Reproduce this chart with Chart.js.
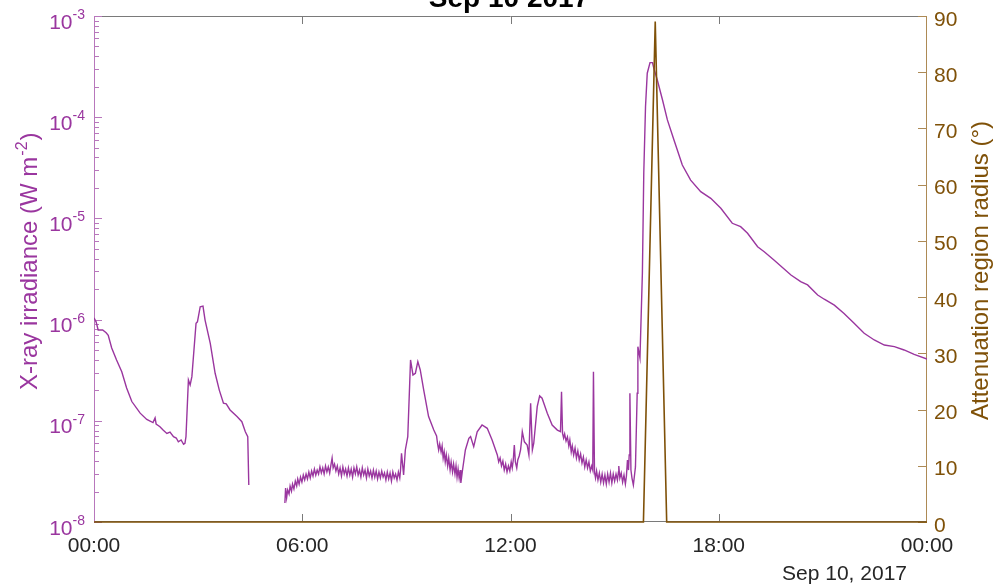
<!DOCTYPE html>
<html>
<head>
<meta charset="utf-8">
<script src="https://cdn.jsdelivr.net/npm/chart.js@4.4.0/dist/chart.umd.min.js"></script>
<style>
html,body{margin:0;padding:0;background:#fff;}
canvas{display:block;}
</style>
</head>
<body>
<canvas id="c" width="997" height="587"></canvas>
<script>
// ---- Data (time in hours of Sep 10 2017) ----
const xrayHours = [
0.00,0.06,0.12,0.25,0.35,0.41,0.51,0.65,0.80,0.94,
1.09,1.33,1.52,1.70,1.76,1.79,1.90,1.99,2.10,2.19,
2.29,2.37,2.43,2.51,2.58,2.62,2.65,2.72,2.77,2.82,
2.94,2.98,3.06,3.14,3.20,3.35,3.49,3.61,3.73,3.81,
3.92,4.12,4.26,4.36,4.43,4.46,5.00,
5.50,5.52,5.55,5.58,5.62,5.65,5.69,5.72,5.76,5.80,
5.84,5.87,5.91,5.95,5.99,6.03,6.07,6.11,6.15,6.19,
6.23,6.27,6.31,6.35,6.39,6.43,6.47,6.51,6.55,6.59,
6.63,6.67,6.71,6.75,6.79,6.83,6.86,6.89,6.93,6.97,
7.01,7.05,7.09,7.13,7.17,7.21,7.25,7.29,7.33,7.37,
7.41,7.45,7.49,7.53,7.57,7.61,7.65,7.69,7.73,7.77,
7.81,7.85,7.89,7.93,7.97,8.01,8.05,8.09,8.13,8.17,
8.21,8.25,8.29,8.33,8.37,8.41,8.45,8.49,8.53,8.57,
8.61,8.65,8.69,8.73,8.77,8.81,8.83,8.86,8.92,8.97,
9.04,9.12,9.19,9.26,9.33,9.40,9.50,9.64,9.79,9.87,
9.90,9.93,9.96,10.00,10.03,10.06,10.09,10.12,10.15,10.19,
10.22,10.26,10.29,10.33,10.36,10.40,10.43,10.46,10.49,10.52,
10.55,10.57,10.61,10.70,10.80,10.85,10.94,11.04,11.18,11.33,
11.47,11.62,11.66,11.70,11.74,11.78,11.82,11.86,11.90,11.94,
11.98,12.02,12.05,12.08,12.11,12.14,12.18,12.21,12.25,12.29,
12.32,12.34,12.40,12.48,12.53,12.58,12.63,12.67,12.77,12.84,
12.91,13.06,13.20,13.35,13.44,13.47,13.50,13.53,13.56,13.60,
13.64,13.68,13.71,13.75,13.78,13.82,13.86,13.90,13.94,13.98,
14.02,14.06,14.10,14.14,14.18,14.22,14.26,14.30,14.34,14.37,
14.39,14.42,14.45,14.48,14.52,14.56,14.60,14.64,14.68,14.72,
14.76,14.80,14.84,14.88,14.92,14.96,15.00,15.04,15.08,15.11,
15.12,15.15,15.19,15.23,15.27,15.31,15.34,15.37,15.40,15.42,
15.44,15.47,15.50,15.54,15.57,15.60,15.65,15.67,15.73,15.80,
15.84,15.89,15.94,16.02,16.09,16.13,16.23,16.38,16.52,16.71,
16.95,17.19,17.48,17.77,18.06,18.39,18.63,18.83,19.12,19.31,
19.59,20.08,20.36,20.56,20.85,21.04,21.33,21.61,21.90,22.19,
22.48,22.77,23.06,23.34,23.63,24.00
];
const xrayIrradiance = [
1.04e-6,9.5e-7,7.9e-7,7.9e-7,7.4e-7,7.0e-7,5.24e-7,3.99e-7,3.05e-7,2.11e-7,
1.55e-7,1.19e-7,1.03e-7,9.6e-8,1.07e-7,9.3e-8,8.75e-8,8.1e-8,7.5e-8,7.75e-8,
6.97e-8,6.76e-8,6.2e-8,6.46e-8,5.86e-8,6.0e-8,6.97e-8,2.53e-7,2.26e-7,2.73e-7,
9.2e-7,9.5e-7,1.34e-6,1.36e-6,9.9e-7,5.83e-7,2.95e-7,2.01e-7,1.49e-7,1.47e-7,
1.28e-7,1.10e-7,9.8e-8,7.8e-8,6.97e-8,2.32e-8,null,
1.54e-8,2.17e-8,1.73e-8,2.07e-8,1.89e-8,2.27e-8,2.02e-8,2.37e-8,2.12e-8,2.54e-8,
2.27e-8,2.66e-8,2.37e-8,2.78e-8,2.48e-8,2.91e-8,2.60e-8,2.98e-8,2.66e-8,3.12e-8,
2.72e-8,3.19e-8,2.85e-8,3.34e-8,2.91e-8,3.26e-8,2.98e-8,3.50e-8,3.05e-8,3.42e-8,
2.98e-8,3.58e-8,3.12e-8,3.50e-8,3.05e-8,3.74e-8,4.29e-8,3.42e-8,3.74e-8,3.19e-8,
3.58e-8,2.98e-8,3.42e-8,2.85e-8,3.50e-8,2.98e-8,3.34e-8,2.85e-8,3.42e-8,2.91e-8,
3.34e-8,2.78e-8,3.42e-8,2.98e-8,3.50e-8,2.91e-8,3.26e-8,2.78e-8,3.42e-8,2.91e-8,
3.26e-8,2.72e-8,3.34e-8,2.85e-8,3.19e-8,2.72e-8,3.26e-8,2.78e-8,3.19e-8,2.66e-8,
3.12e-8,2.72e-8,3.19e-8,2.78e-8,3.05e-8,2.60e-8,3.12e-8,2.66e-8,3.05e-8,2.54e-8,
3.12e-8,2.72e-8,2.98e-8,2.60e-8,3.12e-8,2.72e-8,3.19e-8,4.78e-8,2.91e-8,5.15e-8,
6.97e-8,3.99e-7,2.84e-7,2.95e-7,3.84e-7,3.18e-7,2.01e-7,1.10e-7,8.1e-8,7.08e-8,
5.90e-8,5.15e-8,5.90e-8,4.92e-8,5.64e-8,4.29e-8,4.92e-8,3.92e-8,4.60e-8,3.58e-8,
4.29e-8,3.26e-8,3.92e-8,3.12e-8,3.74e-8,2.98e-8,3.58e-8,2.78e-8,3.34e-8,2.72e-8,
3.26e-8,2.43e-8,3.12e-8,5.15e-8,6.71e-8,6.97e-8,5.55e-8,7.8e-8,9.09e-8,8.43e-8,
6.46e-8,4.60e-8,3.92e-8,4.29e-8,3.58e-8,4.01e-8,3.26e-8,3.74e-8,3.12e-8,3.58e-8,
3.19e-8,3.92e-8,3.42e-8,4.10e-8,5.77e-8,3.92e-8,3.42e-8,4.10e-8,4.49e-8,5.15e-8,
6.46e-8,7.8e-8,6.2e-8,5.77e-8,4.59e-8,1.49e-7,5.15e-8,6.0e-8,1.38e-7,1.76e-7,
1.67e-7,1.19e-7,9.09e-8,8.1e-8,7.8e-8,1.94e-7,7.5e-8,6.76e-8,7.41e-8,6.31e-8,
6.92e-8,5.64e-8,6.46e-8,4.92e-8,5.64e-8,4.60e-8,5.38e-8,4.29e-8,5.03e-8,4.10e-8,
4.70e-8,3.83e-8,4.39e-8,3.50e-8,4.10e-8,3.42e-8,3.92e-8,3.19e-8,3.58e-8,3.26e-8,
3.05e-7,3.12e-8,2.72e-8,3.19e-8,2.60e-8,3.05e-8,2.48e-8,2.98e-8,2.43e-8,2.91e-8,
2.37e-8,2.98e-8,2.48e-8,3.05e-8,2.43e-8,2.98e-8,2.54e-8,2.98e-8,2.60e-8,3.12e-8,
3.58e-8,2.72e-8,3.05e-8,2.48e-8,2.91e-8,2.37e-8,2.85e-8,4.10e-8,3.26e-8,4.60e-8,
1.87e-7,3.26e-8,2.72e-8,2.32e-8,2.85e-8,3.50e-8,1.87e-7,5.4e-7,4.17e-7,2.89e-6,
2.81e-5,1.27e-4,2.72e-4,3.46e-4,3.46e-4,3.04e-4,2.33e-4,1.48e-4,9.4e-5,5.95e-5,
3.37e-5,2.39e-5,1.84e-5,1.58e-5,1.26e-5,8.95e-6,8.28e-6,7.13e-6,5.25e-6,4.69e-6,
3.88e-6,2.76e-6,2.37e-6,2.2e-6,1.75e-6,1.59e-6,1.39e-6,1.15e-6,9.2e-7,7.33e-7,
6.29e-7,5.61e-7,5.4e-7,5.01e-7,4.54e-7,4.08e-7
];
const radiusHours = [0, 15.83, 16.17, 16.50, 24];
const radiusDeg = [0, 0, 89, 0, 0];

const timeTicks = [0, 6, 12, 18, 24];
const timeTickLabels = ['00:00', '06:00', '12:00', '18:00', '00:00'];
const logTickExponents = [-8, -7, -6, -5, -4, -3];
const radiusTicks = [0, 10, 20, 30, 40, 50, 60, 70, 80, 90];
const titleText = 'Sep 10 2017';
const dateText = 'Sep 10, 2017';
const leftTitle = ['X-ray irradiance (W m', '-2', ')'];
const rightTitle = 'Attenuation region radius (°)';

// ---- Styles ----
const PURPLE = '#9a369f';
const PURPLE_AXIS = '#b877bc';
const BROWN = '#7f5108';
const BROWN_AXIS = '#ad8a55';
const GRAY = '#262626';
const FONT = "'Liberation Sans', Arial, Helvetica, sans-serif";

const decor = {
  id: 'decor',
  beforeDatasetsDraw(chart) {
    const ctx = chart.ctx, a = chart.chartArea;
    const xs = chart.scales.x, ys = chart.scales.y, ys1 = chart.scales.y1;
    ctx.save();
    ctx.lineWidth = 1;
    ctx.strokeStyle = '#7a7a7a';
    ctx.beginPath();
    ctx.moveTo(a.left, a.top + 0.5); ctx.lineTo(a.right, a.top + 0.5);
    ctx.moveTo(a.left, a.bottom - 0.5); ctx.lineTo(a.right, a.bottom - 0.5);
    timeTicks.forEach(t => {
      if (t === 0 || t === 24) return;
      const px = Math.round(xs.getPixelForValue(t)) + 0.5;
      ctx.moveTo(px, a.bottom); ctx.lineTo(px, a.bottom - 8);
      ctx.moveTo(px, a.top); ctx.lineTo(px, a.top + 8);
    });
    ctx.stroke();
    ctx.strokeStyle = PURPLE_AXIS;
    ctx.beginPath();
    ctx.moveTo(a.left + 0.5, a.top); ctx.lineTo(a.left + 0.5, a.bottom);
    logTickExponents.forEach(e => {
      const py = Math.round(ys.getPixelForValue(Math.pow(10, e))) + 0.5;
      ctx.moveTo(a.left, py); ctx.lineTo(a.left + 8, py);
      if (e < -3) {
        for (let m = 2; m <= 9; m++) {
          const pm = Math.round(ys.getPixelForValue(m * Math.pow(10, e))) + 0.5;
          ctx.moveTo(a.left, pm); ctx.lineTo(a.left + 5, pm);
        }
      }
    });
    ctx.stroke();
    ctx.strokeStyle = BROWN_AXIS;
    ctx.beginPath();
    ctx.moveTo(a.right - 0.5, a.top); ctx.lineTo(a.right - 0.5, a.bottom);
    radiusTicks.forEach(v => {
      const py = Math.round(ys1.getPixelForValue(v)) + 0.5;
      ctx.moveTo(a.right, py); ctx.lineTo(a.right - 9, py);
    });
    ctx.stroke();
    ctx.restore();
  },
  afterDraw(chart) {
    const ctx = chart.ctx, a = chart.chartArea;
    const xs = chart.scales.x, ys = chart.scales.y, ys1 = chart.scales.y1;
    ctx.save();
    ctx.fillStyle = GRAY;
    ctx.font = '21px ' + FONT;
    ctx.textAlign = 'center';
    ctx.textBaseline = 'alphabetic';
    timeTicks.forEach((t, i) => {
      ctx.fillText(timeTickLabels[i], xs.getPixelForValue(t), 552);
    });
    ctx.textAlign = 'right';
    ctx.fillText(dateText, 907, 580);
    ctx.fillStyle = PURPLE;
    logTickExponents.forEach(e => {
      const py = ys.getPixelForValue(Math.pow(10, e));
      const sup = String(e);
      ctx.font = '14px ' + FONT;
      const w = ctx.measureText(sup).width;
      ctx.textAlign = 'left';
      ctx.fillText(sup, 85 - w, py + 3);
      ctx.font = '21px ' + FONT;
      ctx.textAlign = 'right';
      ctx.fillText('10', 85 - w, py + 12.5);
    });
    ctx.fillStyle = BROWN;
    ctx.font = '21px ' + FONT;
    ctx.textAlign = 'left';
    radiusTicks.forEach(v => {
      ctx.fillText(String(v), a.right + 7, ys1.getPixelForValue(v) + 9.5);
    });
    ctx.save();
    ctx.translate(37, 390);
    ctx.rotate(-Math.PI / 2);
    ctx.fillStyle = PURPLE;
    ctx.textAlign = 'left';
    ctx.font = '24px ' + FONT;
    let x0 = 0;
    ctx.fillText(leftTitle[0], x0, 0); x0 += ctx.measureText(leftTitle[0]).width;
    ctx.font = '16px ' + FONT;
    ctx.fillText(leftTitle[1], x0 + 1, -10); x0 += ctx.measureText(leftTitle[1]).width + 2;
    ctx.font = '24px ' + FONT;
    ctx.fillText(leftTitle[2], x0, 0);
    ctx.restore();
    ctx.save();
    ctx.translate(988, 420);
    ctx.rotate(-Math.PI / 2);
    ctx.fillStyle = BROWN;
    ctx.textAlign = 'left';
    ctx.font = '24px ' + FONT;
    ctx.fillText(rightTitle, 0, 0);
    ctx.restore();
    ctx.fillStyle = '#000';
    ctx.font = 'bold 28px ' + FONT;
    ctx.textAlign = 'center';
    ctx.fillText(titleText, 509, 7);
    ctx.restore();
  }
};

const xrayPoints = xrayHours.map((h, i) => ({ x: h, y: xrayIrradiance[i] }));
const radiusPoints = radiusHours.map((h, i) => ({ x: h, y: radiusDeg[i] }));

new Chart(document.getElementById('c'), {
  type: 'line',
  data: {
    datasets: [
      { label: 'Attenuation region radius', data: radiusPoints, yAxisID: 'y1', borderColor: BROWN,
        borderWidth: 1.6, pointRadius: 0, tension: 0, order: 0, clip: false },
      { label: 'X-ray irradiance', data: xrayPoints, yAxisID: 'y', borderColor: PURPLE,
        borderWidth: 1.4, pointRadius: 0, tension: 0, spanGaps: false, order: 1 }
    ]
  },
  options: {
    responsive: false,
    devicePixelRatio: 1,
    animation: false,
    events: [],
    layout: { padding: { top: 16, left: 0, right: 0, bottom: 0 } },
    plugins: { legend: { display: false }, title: { display: false }, tooltip: { enabled: false } },
    scales: {
      x: { type: 'linear', min: 0, max: 24, position: 'bottom',
        grid: { display: false }, border: { display: false }, ticks: { display: false, stepSize: 6 },
        afterFit: s => { s.height = 65; } },
      y: { type: 'logarithmic', min: 1e-8, max: 1e-3, position: 'left',
        grid: { display: false }, border: { display: false }, ticks: { display: false },
        afterFit: s => { s.width = 94; } },
      y1: { type: 'linear', min: 0, max: 90, position: 'right',
        grid: { display: false }, border: { display: false }, ticks: { display: false },
        afterFit: s => { s.width = 70; } }
    }
  },
  plugins: [decor]
});
</script>
</body>
</html>
